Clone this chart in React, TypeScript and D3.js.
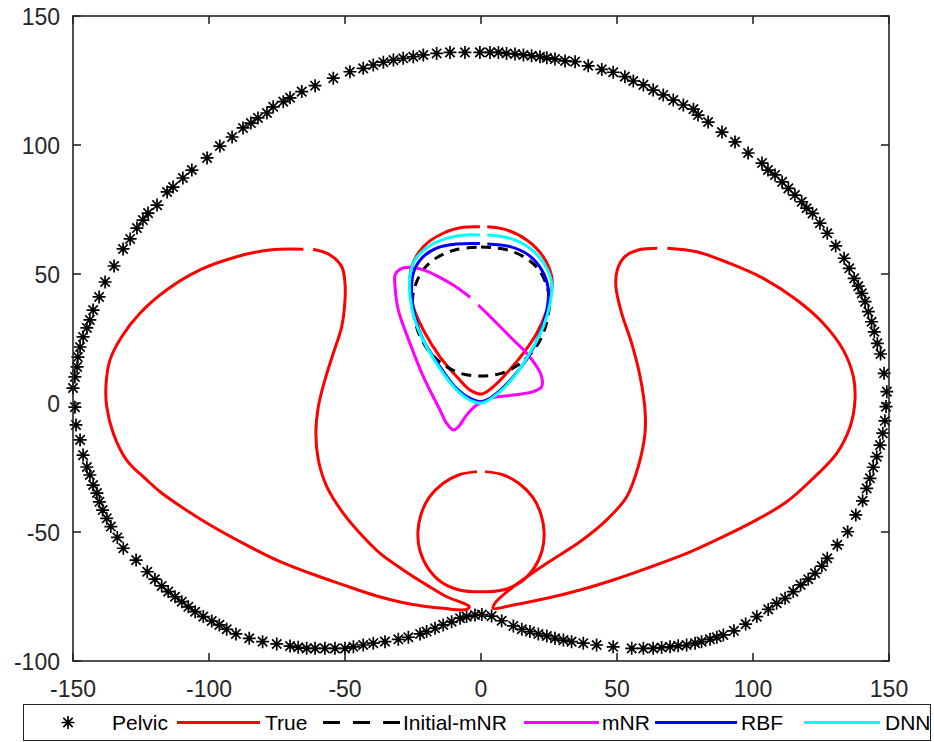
import React from "react";
import * as d3 from "d3";

// ---------- data ----------
const xTicks = [-150, -100, -50, 0, 50, 100, 150];
const yTicks = [-100, -50, 0, 50, 100, 150];

const pelvicX = [
  -150.0, -149.3, -148.5, -148.2, -147.4, -146.3, -144.9, -143.8, -142.6, -140.4, -138.2, -134.9, -131.6, -129.0, -126.5, -124.3, -122.4, -119.1,
  -115.4, -113.2, -109.6, -106.3, -100.7, -96.0, -91.5, -87.5, -84.6, -82.0,
  -78.7, -76.4, -72.7, -70.2, -65.9, -61.0, -54.3, -48.2, -43.3, -39.6, -35.9, -32.2, -28.6, -24.9, -21.2, -16.3, -11.4, -5.9, -0.4, 3.3, 6.4, 9.4, 12.5, 15.6, 18.6, 21.7, 24.2, 27.2, 30.9, 34.6, 39.4, 44.4, 48.6, 52.9, 56.0, 59.7, 63.3, 67.0, 70.7, 74.4, 78.1, 79.8,
  83.5, 88.6, 93.4, 98.2, 103.3, 105.5, 108.1, 110.7, 113.0, 115.4, 117.9, 119.7, 121.9, 124.6, 127.3, 130.4, 133.5, 135.4, 137.2, 138.7, 140.0, 141.2, 142.4, 143.6, 144.6, 145.7, 146.9, 148.2, 149.2, 148.9, 148.5, 147.7, 146.7, 145.5, 144.2, 143.0, 141.8, 140.3, 137.8, 134.8, 131.0, 127.3, 125.3, 122.8, 120.3, 117.5, 114.8, 111.8, 108.7, 105.6, 101.4, 97.3, 93.0, 89.1, 86.7, 84.2, 81.1, 78.7, 75.6, 72.5, 69.5, 66.4, 63.3, 59.7, 55.4, 48.6, 42.5, 37.6, 33.3, 30.3, 27.2, 24.2, 21.1, 18.0, 15.0, 11.9, 7.6, 3.9, 0.3,
  -2.2, -5.3, -7.7, -10.8, -13.9, -16.9, -20.0, -22.4, -26.7, -30.4, -35.3, -39.6, -43.3, -46.9, -50.0, -53.7, -57.4, -61.0, -64.1, -67.2, -70.2, -75.1, -80.3, -85.2, -90.1, -93.5, -96.2, -99.0, -102.1, -105.1, -107.6, -110.0, -112.5, -115.0, -117.4, -119.9, -122.7, -126.8, -131.5, -133.7, -136.1, -137.6, -139.1, -140.3, -141.2, -142.6, -143.8, -144.9, -146.3, -147.4, -148.9, -149.3,
];
const pelvicY = [
  5.8, 10.1, 14.0, 17.8, 21.7, 25.6, 29.1, 32.2, 36.0, 41.1, 46.9, 53.1, 59.7, 63.6, 67.8, 70.9, 73.6, 76.7,
  81.8, 83.7, 87.2, 90.3, 95.0, 99.6, 103.1, 106.6, 108.5, 110.5,
  112.4, 114.8, 116.8, 118.3, 120.7, 123.0, 125.9, 128.4, 129.7, 131.0, 132.1, 132.9, 133.6, 134.2, 134.9, 135.5, 135.9, 135.9, 135.9, 135.9, 135.9, 135.5, 135.3, 134.9, 134.6, 134.2, 133.8, 133.3, 132.6, 132.3, 130.7, 129.3, 128.2, 126.5, 124.8, 123.3, 121.3, 119.4, 117.4, 115.5, 113.9, 111.6,
  108.9, 105.0, 101.2, 96.9, 93.0, 90.3, 88.4, 85.7, 83.2, 80.6, 78.0, 75.5, 73.5, 69.7, 65.8, 60.9, 56.1, 52.2, 48.3, 45.3, 42.5, 39.3, 35.4, 31.5, 27.6, 23.1, 19.0, 11.5, 4.4, -1.4, -6.9, -11.7, -16.3, -20.8, -24.9, -29.2, -33.1, -37.9, -43.4, -49.9, -55.0, -60.2, -63.2, -66.0, -68.3, -70.5, -73.1, -75.7, -77.6, -80.0, -82.8, -85.7, -88.3, -89.9, -90.8, -91.6, -92.5, -93.1, -93.8, -94.1, -94.5, -94.8, -95.1, -95.1, -95.1, -94.5, -93.8, -93.1, -92.5, -91.9, -91.2, -90.3, -89.5, -88.6, -87.7, -86.4, -84.4, -82.6, -82.0,
  -82.2, -82.8, -83.4, -84.8, -86.0, -87.3, -88.6, -89.5, -90.8, -91.6, -92.5, -93.1, -93.8, -94.5, -95.1, -95.1, -95.1, -95.1, -95.1, -94.7, -94.2, -93.4, -92.5, -91.2, -89.5, -87.7, -86.0, -84.5, -82.8, -80.9, -79.0, -77.0, -75.1, -73.1, -70.9, -68.3, -65.4, -60.9, -56.3, -52.1, -47.9, -44.7, -41.5, -38.3, -34.9, -31.8, -27.9, -24.8, -20.2, -14.3, -8.5, -1.6,
];

// True boundary: left lobe, right lobe, lower circle, upper teardrop
const trueLeftX = [-61.7, -55.5, -51.2, -50.0, -50.0, -51.2, -54.3, -57.4, -59.8, -60.7, -59.8, -56.7, -50.6, -44.5, -37.1, -28.6, -20.0, -12.6, -6.5, -4.3, -5.3, -13.9, -26.1, -38.3, -50.6, -62.9, -75.1, -87.4, -99.6, -109.4, -118.0, -122.9, -130.3, -135.2, -137.6, -137.9, -136.4, -132.1, -125.4, -115.6, -103.3, -89.8, -77.6, -65.3];
const trueLeftY = [59.6, 57.4, 52.8, 46.4, 39.9, 29.6, 19.3, 8.9, -1.4, -11.7, -22.1, -32.4, -42.8, -50.5, -58.3, -64.7, -70.5, -75.1, -77.6, -78.9, -80.0, -79.6, -77.9, -74.8, -70.5, -66.0, -60.9, -54.4, -47.3, -40.8, -34.4, -29.8, -22.1, -11.7, -1.4, 6.3, 16.7, 25.7, 34.8, 43.8, 51.6, 56.7, 59.3, 59.6];

const trueRightX = [68.5, 79.3, 91.5, 103.8, 116.1, 125.8, 133.2, 136.9, 137.5, 135.7, 130.8, 122.2, 112.4, 100.1, 87.9, 75.6, 60.9, 48.6, 36.4, 24.2, 11.9, 4.5, 5.1, 11.9, 24.2, 36.4, 46.2, 53.6, 57.8, 60.3, 60.3, 58.5, 55.4, 51.7, 49.6, 50.1, 52.9, 57.8, 64.8];
const trueRightY = [60.0, 58.6, 54.1, 48.3, 39.9, 30.9, 20.5, 10.2, 1.2, -9.2, -19.5, -29.1, -38.3, -46.0, -52.4, -58.3, -64.1, -68.6, -72.5, -75.7, -78.3, -79.6, -77.6, -71.2, -62.1, -53.8, -45.3, -36.3, -24.7, -11.7, -2.7, 10.2, 23.1, 34.8, 45.1, 51.6, 56.7, 59.3, 60.0];

const trueCircleX = [1.5, 8, 14, 19, 22, 23.2, 22.5, 19.5, 14.5, 8, 0, -8, -14.5, -19.5, -22.5, -23.2, -22, -19, -14, -8, -1.5];
const trueCircleY = [-26.6, -27.8, -31.2, -36.5, -43, -50, -57, -64, -69.5, -72.5, -73.2, -72.5, -69.5, -64, -57, -50, -43, -36.5, -31.2, -27.8, -26.6];

const trueTearX = [2.3, 9.4, 16.8, 22.9, 26.0, 26.0, 24.2, 20.5, 15.6, 9.4, 4.5, 0.3, -4.0, -8.9, -15.1, -21.2, -24.9, -26.1, -25.5, -21.2, -13.9, -6.5, -0.4];
const trueTearY = [68.3, 67.1, 63.2, 56.7, 49.0, 43.8, 36.0, 27.0, 19.3, 11.5, 6.3, 3.5, 5.0, 10.2, 17.9, 28.3, 37.3, 46.4, 52.8, 60.6, 65.8, 68.1, 68.3];

const initX = [0, 9, 16, 21, 24, 25.2, 24.5, 22.5, 19, 14, 7.5, 0, -7.5, -14, -19, -22.5, -24.5, -25.2, -24, -21, -16, -9, 0];
const initY = [60.5, 59.5, 56.5, 52, 46, 40, 33, 26, 20, 15, 11.5, 10.5, 11.5, 15, 20, 26, 33, 40, 46, 52, 56.5, 59.5, 60.5];

const mnrX = [-1.0, 5.8, 11.9, 16.8, 20.5, 22.3, 22.3, 19.2, 11.9, 3.3, -1.6, -5.3, -8.3, -10.2, -12.6, -15.1, -21.2, -26.1, -30.4, -31.6, -31.6, -29.8, -26.1, -21.2, -15.7, -10.2, -4.0];
const mnrY = [38.0, 30.9, 24.4, 19.3, 14.1, 10.2, 6.3, 4.4, 3.1, 1.8, -0.8, -4.7, -9.2, -10.5, -7.9, -2.7, 10.2, 23.1, 36.0, 45.1, 49.6, 51.8, 52.6, 51.6, 49.0, 45.7, 41.0];

const rbfX = [2.3, 10.7, 17.4, 22.3, 24.7, 24.2, 21.7, 17.4, 11.9, 5.8, 0.8, -4.0, -9.6, -15.1, -21.2, -24.3, -25.5, -24.9, -21.8, -16.3, -8.9, -0.4];
const rbfY = [61.6, 60.6, 57.4, 51.6, 44.5, 36.0, 27.0, 17.9, 10.2, 3.8, 0.5, 1.8, 6.3, 14.1, 24.4, 33.4, 42.5, 50.3, 56.1, 60.0, 61.6, 61.8];

const dnnX = [2.3, 10.7, 18.0, 23.5, 26.0, 25.4, 22.9, 18.6, 13.1, 7.0, 0.8, -2.8, -7.7, -13.9, -20.0, -24.3, -26.1, -26.1, -24.3, -19.4, -12.6, -5.9, -0.4];
const dnnY = [65.1, 63.8, 60.0, 53.5, 46.4, 38.6, 29.6, 20.5, 11.5, 4.4, 0.1, 0.5, 3.8, 11.5, 21.8, 32.2, 41.2, 49.0, 55.4, 60.6, 63.8, 65.1, 65.1];

const legendLabels = ["Pelvic", "True", "Initial-mNR", "mNR", "RBF", "DNN"];
const legendColors = ["#000000", "#ff0000", "#000000", "#ff00ff", "#0000ff", "#00ffff"];

// ---------- layout ----------
const W = 934;
const H = 742;
const L = 73, R = 889, T = 16, B = 661;

const x = d3.scaleLinear().domain([-150, 150]).range([L, R]);
const y = d3.scaleLinear().domain([-100, 150]).range([B, T]);

const zip = (xs: number[], ys: number[]) => xs.map((v, i) => [v, ys[i]] as [number, number]);
const line = d3
  .line<[number, number]>()
  .x((d) => x(d[0]))
  .y((d) => y(d[1]))
  .curve(d3.curveCatmullRom.alpha(0.5));

const starPath = (s: number) => {
  const d = s * 0.72;
  return `M0,${-s}V${s}M${-s},0H${s}M${-d},${-d}L${d},${d}M${-d},${d}L${d},${-d}`;
};

const axisColor = "#262626";
const font = "'Liberation Sans', Arial, Helvetica, sans-serif";

export default function App() {
  const star = starPath(6.5);
  const tickLen = 8;

  // legend token layout
  const legY = 722.5;
  const tokens = [
    { kind: "star", x0: 68, x1: 68, tx: 112 },
    { kind: "line", x0: 177, x1: 260, tx: 265 },
    { kind: "dash", x0: 323, x1: 400, tx: 403 },
    { kind: "line", x0: 524, x1: 599, tx: 602 },
    { kind: "line", x0: 655, x1: 737, tx: 741 },
    { kind: "line", x0: 804, x1: 880, tx: 885 },
  ];

  return (
    <svg
      width={W}
      height={H}
      style={{ position: "absolute", left: 0, top: 0, background: "#fff" }}
      xmlns="http://www.w3.org/2000/svg"
    >
      <rect x={0} y={0} width={W} height={H} fill="#fff" />

      {/* pelvic markers */}
      <g stroke="#000" strokeWidth={1.7} fill="none">
        {pelvicX.map((px, i) => (
          <path key={i} d={star} transform={`translate(${x(px)},${y(pelvicY[i])})`} />
        ))}
      </g>

      {/* True */}
      <g fill="none" stroke="#ff0000" strokeWidth={3}>
        <path d={line(zip(trueLeftX, trueLeftY)) || ""} />
        <path d={line(zip(trueRightX, trueRightY)) || ""} />
        <path d={line(zip(trueCircleX, trueCircleY)) || ""} />
        <path d={line(zip(trueTearX, trueTearY)) || ""} />
      </g>

      {/* Initial-mNR */}
      <path d={line(zip(initX, initY)) || ""} fill="none" stroke="#000" strokeWidth={3} strokeDasharray="10,7" />
      {/* mNR */}
      <path d={line(zip(mnrX, mnrY)) || ""} fill="none" stroke="#ff00ff" strokeWidth={3} />
      {/* RBF */}
      <path d={line(zip(rbfX, rbfY)) || ""} fill="none" stroke="#0000ff" strokeWidth={3} />
      {/* DNN */}
      <path d={line(zip(dnnX, dnnY)) || ""} fill="none" stroke="#00ffff" strokeWidth={3} />

      {/* axes box */}
      <rect x={L} y={T} width={R - L} height={B - T} fill="none" stroke={axisColor} strokeWidth={1.6} />
      <g stroke={axisColor} strokeWidth={1.6}>
        {xTicks.map((t) => (
          <g key={"xt" + t}>
            <line x1={x(t)} x2={x(t)} y1={B} y2={B - tickLen} />
            <line x1={x(t)} x2={x(t)} y1={T} y2={T + tickLen} />
          </g>
        ))}
        {yTicks.map((t) => (
          <g key={"yt" + t}>
            <line x1={L} x2={L + tickLen} y1={y(t)} y2={y(t)} />
            <line x1={R} x2={R - tickLen} y1={y(t)} y2={y(t)} />
          </g>
        ))}
      </g>
      <g fill={axisColor} fontFamily={font} fontSize={23}>
        {xTicks.map((t) => (
          <text key={"xl" + t} x={x(t)} y={B + 36} textAnchor="middle">
            {t}
          </text>
        ))}
        {yTicks.map((t) => (
          <text key={"yl" + t} x={L - 13} y={y(t) + 8.5} textAnchor="end">
            {t}
          </text>
        ))}
      </g>

      {/* legend */}
      <rect x={23.5} y={704.5} width={907} height={36} fill="#fff" stroke={axisColor} strokeWidth={1} />
      {tokens.map((tk, i) => (
        <g key={"lg" + i}>
          {tk.kind === "star" ? (
            <path d={star} transform={`translate(${tk.x0},${legY})`} stroke="#000" strokeWidth={1.7} fill="none" />
          ) : (
            <line
              x1={tk.x0}
              x2={tk.x1}
              y1={legY}
              y2={legY}
              stroke={legendColors[i]}
              strokeWidth={3}
              strokeDasharray={tk.kind === "dash" ? "17,13" : undefined}
            />
          )}
          <text x={tk.tx} y={legY + 7.5} fontFamily={font} fontSize={21} fill="#000">
            {legendLabels[i]}
          </text>
        </g>
      ))}
    </svg>
  );
}
